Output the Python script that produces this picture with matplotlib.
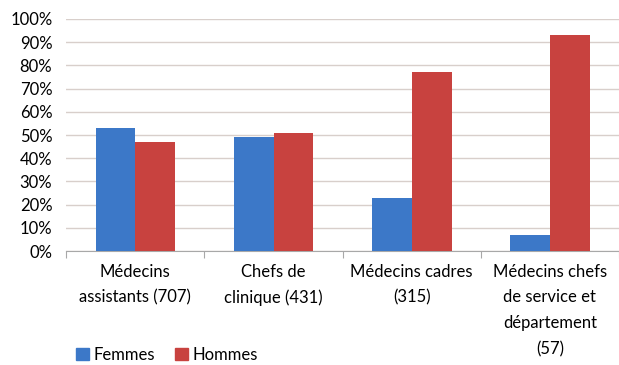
import numpy as np
import matplotlib.pyplot as plt
from matplotlib.patches import Patch
from matplotlib.ticker import PercentFormatter

plt.rcParams['font.family'] = ['Lato', 'DejaVu Sans']

categories = ["Médecins\nassistants (707)", "Chefs de\nclinique (431)",
              "Médecins cadres\n(315)",
              "Médecins chefs\nde service et\ndépartement\n(57)"]
femmes = [53, 49, 23, 7]
hommes = [47, 51, 77, 93]

blue = "#3C78C8"
red = "#C8423F"

fig = plt.figure(figsize=(6.19, 3.65), dpi=100)
ax = fig.add_axes([0.107, 0.312, 0.893, 0.636])

x = np.arange(len(categories))
w = 0.288
ax.bar(x - w / 2, femmes, w, color=blue, zorder=3)
ax.bar(x + w / 2, hommes, w, color=red, zorder=3)

ax.set_xlim(-0.5, len(categories) - 0.5)
ax.set_ylim(0, 100)
ax.set_yticks(range(0, 101, 10))
ax.yaxis.set_major_formatter(PercentFormatter(decimals=0))
ax.grid(axis='y', color="#D8CFCB", linewidth=1.0, zorder=0)

# category labels between ticks, ticks at group boundaries
ax.set_xticks(np.arange(-0.5, len(categories), 1.0))
ax.set_xticklabels([])
ax.set_xticks(x, minor=True)
ax.set_xticklabels(categories, minor=True, fontsize=12, linespacing=1.75,
                   va='top')
ax.tick_params(axis='x', which='minor', length=0, pad=9)
ax.tick_params(axis='x', which='major', length=5, color="#A8A8A8")
ax.tick_params(axis='y', length=0, labelsize=12, pad=10)

for side in ['top', 'right', 'left']:
    ax.spines[side].set_visible(False)
ax.spines['bottom'].set_color("#A8A8A8")

handles = [Patch(color=blue, label="Femmes"), Patch(color=red, label="Hommes")]
fig.legend(handles=handles, loc='lower left', bbox_to_anchor=(0.098, -0.035),
           ncol=2, frameon=False, fontsize=12, handlelength=0.8,
           handleheight=0.8, handletextpad=0.25, columnspacing=1.2)

fig.savefig("out.png", dpi=100)
